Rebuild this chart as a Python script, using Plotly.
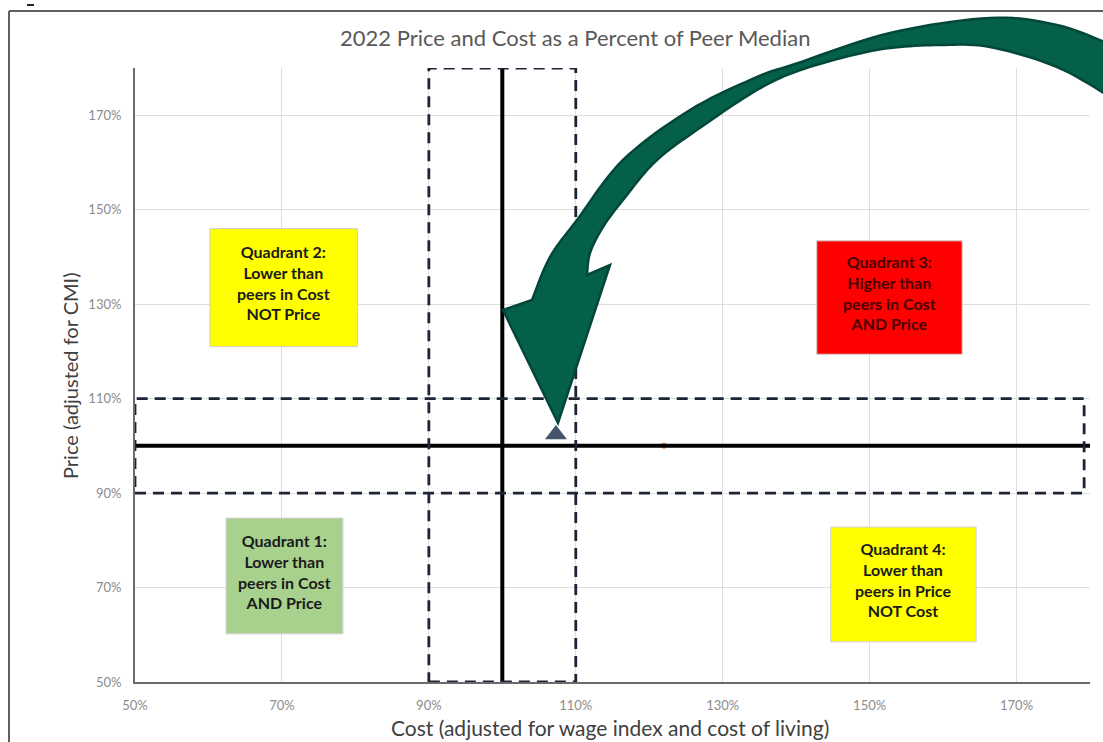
import plotly.graph_objects as go

# ---------------- data ----------------
tick_vals = [50, 70, 90, 110, 130, 150, 170]
tick_text = ["50%", "70%", "90%", "110%", "130%", "150%", "170%"]

# the institution's point (cost %, price %)
inst_cost = [107.3]
inst_price = [102.4]
# faint second series point (mostly hidden behind the median line)
peer_cost = [122.0]
peer_price = [100.0]

# peer median reference lines
median_x_line_x = [100, 100]
median_x_line_y = [50, 180]
median_y_line_x = [50, 180]
median_y_line_y = [100, 100]

# +/-10% bands
band_low, band_high = 90, 110

quadrants = [
    # label, x0, x1, y0, y1, fill
    ("Quadrant 2:<br>Lower than<br>peers in Cost<br>NOT Price", 60.2, 80.3, 121.0, 146.0, "#ffff00"),
    ("Quadrant 3:<br>Higher than<br>peers in Cost<br>AND Price", 142.8, 162.6, 119.4, 143.4, "#ff0000"),
    ("Quadrant 1:<br>Lower than<br>peers in Cost<br>AND Price", 62.4, 78.3, 60.2, 84.7, "#a9d18e"),
    ("Quadrant 4:<br>Lower than<br>peers in Price<br>NOT Cost", 144.7, 164.5, 58.5, 82.8, "#ffff00"),
]

# ---------------- layout geometry ----------------
W, H = 1103, 742
L, R, T, B = 135, 1090, 68, 682


def px(x):
    return (x - L) / (R - L)


def py(y):
    return (B - y) / (B - T)


def catmull(points, n=10):
    out = []
    pts = [points[0]] + points + [points[-1]]
    for i in range(1, len(pts) - 2):
        p0, p1, p2, p3 = pts[i - 1], pts[i], pts[i + 1], pts[i + 2]
        for k in range(n):
            t = k / n
            t2, t3 = t * t, t * t * t
            x = 0.5 * ((2 * p1[0]) + (-p0[0] + p2[0]) * t + (2 * p0[0] - 5 * p1[0] + 4 * p2[0] - p3[0]) * t2
                       + (-p0[0] + 3 * p1[0] - 3 * p2[0] + p3[0]) * t3)
            y = 0.5 * ((2 * p1[1]) + (-p0[1] + p2[1]) * t + (2 * p0[1] - 5 * p1[1] + 4 * p2[1] - p3[1]) * t2
                       + (-p0[1] + 3 * p1[1] - 3 * p2[1] + p3[1]) * t3)
            out.append((x, y))
    out.append(points[-1])
    return out


FONT = "Lato, 'Open Sans', sans-serif"

fig = go.Figure()

fig.add_trace(go.Scatter(x=peer_cost, y=peer_price, mode="markers",
                         marker=dict(color="#ed7d31", size=6), hoverinfo="skip",
                         showlegend=False))
fig.add_trace(go.Scatter(x=median_x_line_x, y=median_x_line_y, mode="lines",
                         line=dict(color="black", width=4), showlegend=False))
fig.add_trace(go.Scatter(x=median_y_line_x, y=median_y_line_y, mode="lines",
                         line=dict(color="black", width=4), showlegend=False))
fig.add_trace(go.Scatter(x=inst_cost, y=inst_price, mode="markers",
                         marker=dict(symbol="triangle-up", color="#44546a", size=19,
                                     line=dict(width=0)),
                         showlegend=False))

shapes = []
DASH = "11px,7px"
shapes.append(dict(type="rect", xref="x", yref="y", x0=band_low, x1=band_high, y0=50, y1=180,
                   line=dict(color="#1c2536", width=2.8, dash=DASH), fillcolor="rgba(0,0,0,0)",
                   layer="above"))
shapes.append(dict(type="rect", xref="x", yref="y", x0=50, x1=179.2, y0=band_low, y1=band_high,
                   line=dict(color="#1c2536", width=2.8, dash=DASH), fillcolor="rgba(0,0,0,0)",
                   layer="above"))

annotations = []
for label, x0, x1, y0, y1, fill in quadrants:
    shapes.append(dict(type="rect", xref="x", yref="y", x0=x0, x1=x1, y0=y0, y1=y1,
                       line=dict(color="#d0d0d0", width=1), fillcolor=fill, layer="above"))
    tc = "#4a0000" if fill == "#ff0000" else "#1a1a1a"
    annotations.append(dict(x=(x0 + x1) / 2, y=(y0 + y1) / 2 + 1.0, xref="x", yref="y",
                            text="<b>" + label + "</b>", showarrow=False,
                            font=dict(family=FONT, size=16, color=tc), align="center"))

# frame of the screenshot
shapes.append(dict(type="line", xref="paper", yref="paper", x0=px(9), x1=px(1110),
                   y0=py(11), y1=py(11), line=dict(color="#5f5f5f", width=2)))
shapes.append(dict(type="line", xref="paper", yref="paper", x0=px(9), x1=px(9),
                   y0=py(11), y1=py(745), line=dict(color="#5f5f5f", width=2)))
shapes.append(dict(type="line", xref="paper", yref="paper", x0=px(27), x1=px(34),
                   y0=py(5), y1=py(5), line=dict(color="#222222", width=2)))

# big curved green arrow (decoration)
outer = [(532, 300), (550, 257), (577, 220), (623, 160), (690, 110), (757, 77), (795, 64),
         (890, 33), (990, 18), (1057, 25), (1112, 45)]
inner = [(587, 275), (590, 253), (603, 227), (623, 200), (657, 160), (707, 123), (757, 90),
         (795, 72), (845, 57), (890, 48), (940, 45), (990, 47), (1057, 67), (1112, 98)]
arrow_pts = [(558, 423), (503, 310)] + catmull(outer) + list(reversed(catmull(inner))) + [(610, 265)]
path = "M " + " L ".join(f"{px(a):.5f},{py(b):.5f}" for a, b in arrow_pts) + " Z"
shapes.append(dict(type="path", xref="paper", yref="paper", path=path,
                   fillcolor="#05604a", line=dict(color="#03473a", width=2.5), layer="above"))

# title and axis titles
annotations.append(dict(x=px(575), y=py(38), xref="paper", yref="paper", showarrow=False,
                        text="2022 Price and Cost as a Percent of Peer Median",
                        font=dict(family=FONT, size=22, color="#595959"),
                        xanchor="center", yanchor="middle"))
annotations.append(dict(x=px(610), y=py(727), xref="paper", yref="paper", showarrow=False,
                        text="Cost (adjusted for wage index and cost of living)",
                        font=dict(family=FONT, size=21, color="#404040"),
                        xanchor="center", yanchor="middle"))
annotations.append(dict(x=px(70), y=py(376), xref="paper", yref="paper", showarrow=False,
                        text="Price (adjusted for CMI)", textangle=-90,
                        font=dict(family=FONT, size=20, color="#404040"),
                        xanchor="center", yanchor="middle"))

fig.update_layout(
    width=W, height=H,
    margin=dict(l=L, r=W - R, t=T, b=H - B),
    paper_bgcolor="white", plot_bgcolor="white",
    shapes=shapes, annotations=annotations,
    showlegend=False,
    font=dict(family=FONT),
)
fig.update_xaxes(range=[50, 180], tickvals=tick_vals, ticktext=tick_text,
                 showgrid=True, gridcolor="#dedede", gridwidth=1,
                 showline=True, linecolor="#6b6b6b", linewidth=2,
                 ticks="outside", ticklen=10, tickcolor="rgba(0,0,0,0)",
                 tickfont=dict(family=FONT, size=13, color="#8c8c8c"), zeroline=False)
fig.update_yaxes(range=[50, 180], tickvals=tick_vals, ticktext=tick_text,
                 showgrid=True, gridcolor="#dedede", gridwidth=1,
                 showline=True, linecolor="#6b6b6b", linewidth=2,
                 ticks="outside", ticklen=9, tickcolor="rgba(0,0,0,0)",
                 tickfont=dict(family=FONT, size=13, color="#8c8c8c"), zeroline=False)

fig.write_html("out.html")
